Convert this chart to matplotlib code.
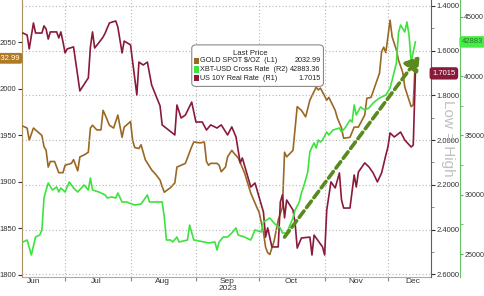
import pandas as pd
import matplotlib
matplotlib.use("Agg")
import matplotlib.pyplot as plt
import matplotlib.dates as mdates
from matplotlib.patches import FancyBboxPatch, Rectangle
from matplotlib.ticker import MultipleLocator, FuncFormatter

plt.rcParams["font.family"] = ["Liberation Sans", "DejaVu Sans"]

# ---- data ----
gold_dates = ["06-11", "06-13", "06-14", "06-16", "06-18", "06-20", "06-21", "06-22", "06-23", "06-24",
              "06-26", "06-28", "06-30", "07-01", "07-04", "07-05", "07-07", "07-08", "07-10", "07-12",
              "07-13", "07-14", "07-16", "07-18", "07-19", "07-20", "07-22", "07-24", "07-26", "07-28",
              "07-29", "08-01", "08-02", "08-03", "08-05", "08-06", "08-08", "08-11", "08-13", "08-15",
              "08-16", "08-17", "08-20", "08-22", "08-23", "08-25", "08-27", "08-30", "08-31", "09-03",
              "09-05", "09-06", "09-07", "09-08", "09-11", "09-12", "09-13", "09-15", "09-16", "09-18",
              "09-19", "09-21", "09-24", "09-27", "09-30", "10-01", "10-03", "10-04", "10-05", "10-06",
              "10-08", "10-10", "10-12", "10-13", "10-14", "10-17", "10-19", "10-21", "10-23", "10-25",
              "10-28", "10-29", "10-30", "11-02", "11-03", "11-06", "11-07", "11-09", "11-10", "11-13",
              "11-15", "11-17", "11-20", "11-21", "11-23", "11-25", "11-27", "11-28", "11-29", "11-30",
              "12-02", "12-03", "12-05", "12-06", "12-08", "12-09", "12-12", "12-13", "12-14"]
gold_vals = [1960, 1958, 1945, 1958, 1954, 1950, 1938, 1934, 1916, 1922,
             1922, 1910, 1910, 1918, 1920, 1924, 1912, 1927, 1929, 1932,
             1958, 1961, 1956, 1956, 1977, 1972, 1961, 1958, 1972, 1948,
             1959, 1965, 1945, 1937, 1936, 1940, 1924, 1913, 1908, 1902,
             1895, 1889, 1894, 1899, 1916, 1918, 1920, 1938, 1943, 1942,
             1943, 1922, 1918, 1920, 1920, 1918, 1911, 1916, 1927, 1934,
             1931, 1926, 1910, 1888, 1872, 1867, 1846, 1830, 1824, 1822,
             1836, 1859, 1873, 1932, 1927, 1934, 1981, 1977, 1970, 1988,
             2002, 1999, 2001, 1988, 1991, 1977, 1969, 1958, 1947, 1948,
             1959, 1959, 1972, 1990, 1991, 2004, 2017, 2040, 2045, 2039,
             2074, 2056, 2042, 2031, 2018, 2002, 1981, 1983, 2032.99]

real_dates = ["06-11", "06-13", "06-14", "06-16", "06-17", "06-20", "06-21", "06-22", "06-23", "06-24",
              "06-27", "06-28", "06-29", "06-30", "07-01", "07-02", "07-05", "07-08", "07-11", "07-12",
              "07-13", "07-14", "07-15", "07-18", "07-19", "07-20", "07-21", "07-22", "07-25", "07-26",
              "07-28", "07-29", "08-01", "08-04", "08-05", "08-07", "08-09", "08-11", "08-15", "08-16",
              "08-22", "08-23", "08-25", "08-27", "08-30", "09-01", "09-04", "09-06", "09-08", "09-11",
              "09-13", "09-16", "09-18", "09-20", "09-21", "09-22", "09-23", "09-27", "09-29", "10-03",
              "10-04", "10-05", "10-07", "10-10", "10-11", "10-12", "10-13", "10-14", "10-17", "10-18",
              "10-19", "10-21", "10-25", "10-26", "10-27", "10-31", "11-01", "11-02", "11-04", "11-06",
              "11-08", "11-09", "11-10", "11-13", "11-15", "11-16", "11-17", "11-20", "11-22", "11-24",
              "11-26", "11-28", "11-30", "12-01", "12-02", "12-04", "12-07", "12-09", "12-12", "12-13",
              "12-14"]
real_vals = [1.521, 1.530, 1.592, 1.476, 1.521, 1.521, 1.489, 1.503, 1.548, 1.516,
             1.516, 1.543, 1.516, 1.561, 1.610, 1.592, 1.583, 1.780, 1.736, 1.722,
             1.583, 1.516, 1.588, 1.552, 1.539, 1.521, 1.498, 1.476, 1.467, 1.494,
             1.610, 1.557, 1.574, 1.798, 1.651, 1.664, 1.651, 1.753, 1.847, 1.932,
             1.977, 1.843, 1.901, 1.888, 1.830, 1.919, 1.919, 1.955, 1.932, 1.946,
             1.932, 1.977, 1.941, 1.986, 2.044, 2.102, 2.080, 2.210, 2.192, 2.322,
             2.434, 2.393, 2.478, 2.478, 2.277, 2.245, 2.348, 2.268, 2.313, 2.371,
             2.483, 2.438, 2.434, 2.514, 2.425, 2.478, 2.514, 2.313, 2.187, 2.214,
             2.147, 2.268, 2.304, 2.304, 2.156, 2.210, 2.143, 2.102, 2.120, 2.147,
             2.187, 2.147, 2.067, 2.031, 1.968, 1.986, 1.964, 2.000, 2.031, 2.022,
             1.7015]

btc_dates = ["06-11", "06-13", "06-15", "06-17", "06-19", "06-20", "06-21", "06-22", "06-23", "06-25",
             "06-27", "06-28", "06-29", "07-01", "07-03", "07-05", "07-07", "07-10", "07-12", "07-13",
             "07-14", "07-17", "07-20", "07-21", "07-23", "07-25", "07-26", "07-28", "07-30", "08-03",
             "08-06", "08-09", "08-10", "08-16", "08-17", "08-18", "08-20", "08-21", "08-23", "08-24",
             "08-28", "08-29", "08-31", "09-05", "09-07", "09-10", "09-11", "09-12", "09-14", "09-16",
             "09-18", "09-20", "09-21", "09-24", "09-27", "09-29", "10-02", "10-03", "10-06", "10-08",
             "10-09", "10-11", "10-12", "10-14", "10-15", "10-17", "10-18", "10-20", "10-21", "10-22",
             "10-24", "10-25", "10-26", "10-27", "10-28", "10-29", "10-30", "10-31", "11-02", "11-03",
             "11-05", "11-08", "11-09", "11-11", "11-13", "11-14", "11-15", "11-16", "11-18", "11-20",
             "11-22", "11-24", "11-27", "11-30", "12-02", "12-03", "12-05", "12-06", "12-07", "12-09",
             "12-10", "12-11", "12-12", "12-14"]
btc_vals = [26012, 26180, 24916, 26433, 26602, 27024, 29722, 30396, 30987, 30396,
            30649, 30228, 30565, 30228, 31071, 30565, 30228, 30818, 30396, 31408,
            30396, 30228, 29975, 29722, 29806, 29722, 30144, 29385, 29385, 29132,
            29216, 29975, 29385, 29385, 28120, 26180, 26180, 26012, 26433, 26012,
            26180, 27445, 26180, 26012, 25928, 26012, 25337, 26012, 26433, 26433,
            26771, 27192, 26602, 26433, 26180, 27024, 26855, 27698, 28036, 27614,
            27445, 27192, 26771, 26771, 27192, 28036, 28710, 29385, 30144, 30649,
            31914, 33601, 34022, 34360, 33938, 34612, 34444, 34612, 35287, 35034,
            35456, 35624, 35287, 35709, 36299, 36130, 37564, 36720, 37395, 37142,
            37311, 37732, 38154, 38407, 38997, 39672, 41105, 43635, 44310, 43720,
            44562, 43466, 41190, 42883.36]

legend_names = ["GOLD SPOT $/OZ  (L1)", "XBT-USD Cross Rate  (R2)", "US 10Y Real Rate  (R1)"]
legend_last = ["2032.99", "42883.36", "1.7015"]

# trend arrow drawn on the XBT axis (date, value)
arrow_start = ("2023-10-13", 26430)
arrow_end = ("2023-12-16", 41700)

month_labels = ["Jun", "Jul", "Aug", "Sep\n2023", "Oct", "Nov", "Dec"]
month_label_days = ["06-16", "07-16", "08-16", "09-16", "10-16", "11-16", "12-13"]


def to_dt(days):
    return pd.to_datetime(["2023-" + d for d in days])


gold_c = "#9a6825"
real_c = "#8a1a3a"
btc_c = "#3ee23e"
arrow_c = "#5a8a1e"
tick_c = "#333333"

fig = plt.figure(figsize=(4.85, 2.96), dpi=100)
ax = fig.add_axes([0.0454, 0.0642, 0.8433, 0.9358])
ax1 = ax.twinx()
ax2 = ax.twinx()
ax2.spines["right"].set_position(("axes", 1.071))

ax.plot(to_dt(gold_dates), gold_vals, color=gold_c, lw=1.2, zorder=3)
ax1.plot(to_dt(real_dates), real_vals, color=real_c, lw=1.2, zorder=3)
ax2.plot(to_dt(btc_dates), btc_vals, color=btc_c, lw=1.2, zorder=3)

ax2.annotate("", xy=(mdates.date2num(pd.Timestamp(arrow_end[0])), arrow_end[1]),
             xytext=(mdates.date2num(pd.Timestamp(arrow_start[0])), arrow_start[1]),
             arrowprops=dict(arrowstyle="-|>,head_length=0.8,head_width=0.5",
                             color=arrow_c, lw=2.6, ls=(0, (2.2, 1.2)),
                             shrinkA=0, shrinkB=0))

ax.set_xlim(pd.Timestamp("2023-06-10 14:00"), pd.Timestamp("2023-12-21 10:00"))
ax.set_ylim(1797.8, 2095.7)
ax1.set_ylim(2.6125, 1.3732)
ax2.set_ylim(23061, 46417)

# x axis: month boundaries as ticks/grid, names in the middle
ax.xaxis.set_major_locator(mdates.MonthLocator())
ax.xaxis.set_major_formatter(plt.NullFormatter())
ax.set_xticks(mdates.date2num(to_dt(month_label_days)), month_labels, minor=True)
for lab in ax.get_xticklabels(minor=True):
    lab.set_linespacing(0.95)
ax.tick_params(axis="x", which="major", length=3, color="#888888")
ax.tick_params(axis="x", which="minor", length=0, labelsize=6, colors=tick_c, pad=1)
ax.grid(axis="x", which="major", ls=(0, (1, 2)), color="#b5b5b5", lw=0.8)

ax.yaxis.set_major_locator(MultipleLocator(50))
ax.tick_params(axis="y", labelsize=5.5, length=3, pad=1, colors=tick_c)

ax1.yaxis.set_major_locator(MultipleLocator(0.2))
ax1.yaxis.set_minor_locator(MultipleLocator(0.1))
ax1.yaxis.set_major_formatter(FuncFormatter(lambda v, p: "%.4f" % v))
ax1.tick_params(axis="y", which="major", labelsize=5.5, length=3, pad=1, colors=tick_c)
ax1.tick_params(axis="y", which="minor", length=2, colors="#777777")
ax1.grid(axis="y", which="major", ls=(0, (1, 2)), color="#b5b5b5", lw=0.8)

ax2.yaxis.set_major_locator(MultipleLocator(5000))
ax2.yaxis.set_minor_locator(MultipleLocator(2500))
ax2.tick_params(axis="y", which="major", labelsize=5.1, length=2.5, pad=0.5, colors=tick_c)
ax2.tick_params(axis="y", which="minor", length=2)
ax2.tick_params(axis="y", which="both", color="#55bb55")

for a in (ax, ax1, ax2):
    a.spines["top"].set_visible(False)
for a in (ax1, ax2):
    a.spines["left"].set_visible(False)
    a.spines["bottom"].set_visible(False)
ax.spines["right"].set_visible(False)
ax1.spines["right"].set_color("#6a5560")
ax2.spines["right"].set_color("#66c266")
ax.spines["left"].set_color("#a89060")
ax.spines["bottom"].set_color("#aaaaaa")

# last price tags
ax.annotate("2032.99", xy=(-0.004, 2032.99), xycoords=("axes fraction", "data"),
            ha="right", va="center", fontsize=5.5, color="white", annotation_clip=False,
            bbox=dict(boxstyle="round,pad=0.25", fc="#b07a22", ec="none"))
ax1.annotate("1.7015", xy=(1.003, 1.7015), xycoords=("axes fraction", "data"),
             ha="left", va="center", fontsize=5.5, color="white", annotation_clip=False,
             bbox=dict(boxstyle="round,pad=0.35", fc=real_c, ec="none"))
ax2.annotate("42883", xy=(1.075, 42883.36), xycoords=("axes fraction", "data"),
             ha="left", va="center", fontsize=5.5, color="#2a7a2a", annotation_clip=False,
             bbox=dict(boxstyle="round,pad=0.3", fc="#44ee44", ec="none"))

ax2.text(1.0416, 0.502, "Low = High", transform=ax.transAxes, rotation=270,
         ha="center", va="center", fontsize=11, color="#c0c0c0", zorder=0)

# legend box
box = FancyBboxPatch((0.415, 0.688), 0.322, 0.150, transform=ax.transAxes,
                     boxstyle="round,pad=0.0,rounding_size=0.012",
                     fc="white", ec="#8a8a8a", lw=0.8, zorder=10)
ax2.add_patch(box)
ax2.text(0.558, 0.808, "Last Price", transform=ax.transAxes, ha="center", va="center",
         fontsize=5.6, color="#222222", zorder=11)
for i, (name, last, c) in enumerate(zip(legend_names, legend_last, [gold_c, btc_c, real_c])):
    yy = 0.780 - i * 0.031
    ax2.add_patch(Rectangle((0.420, yy - 0.011), 0.012, 0.022, transform=ax.transAxes,
                            fc=c, ec="none", zorder=11))
    ax2.text(0.436, yy, name.replace("$", r"\$"), transform=ax.transAxes, ha="left", va="center",
             fontsize=5.2, color="#222222", zorder=11)
    ax2.text(0.730, yy, last, transform=ax.transAxes, ha="right", va="center",
             fontsize=5.2, color="#222222", zorder=11)

fig.savefig("out.png", dpi=100)
